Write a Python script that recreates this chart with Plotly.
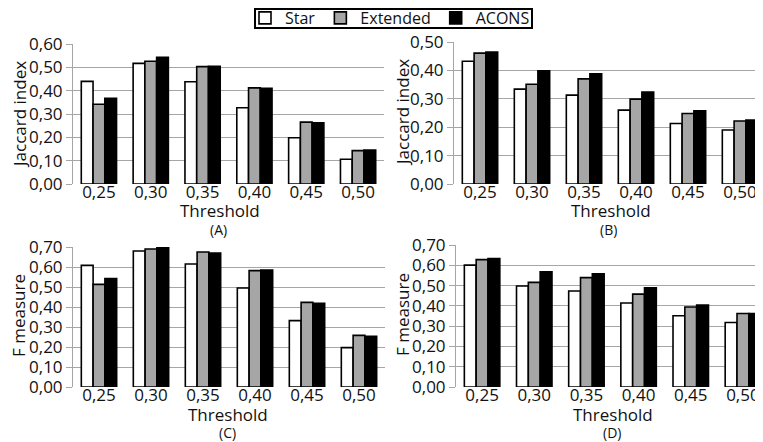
import plotly.graph_objects as go

thresholds = ["0,25", "0,30", "0,35", "0,40", "0,45", "0,50"]
series_names = ["Star", "Extended", "ACONS"]

# (A) Jaccard index
a_star = [0.440, 0.517, 0.438, 0.327, 0.198, 0.106]
a_ext = [0.342, 0.526, 0.503, 0.412, 0.265, 0.143]
a_acons = [0.367, 0.543, 0.504, 0.410, 0.262, 0.145]
# (B) Jaccard index
b_star = [0.432, 0.334, 0.313, 0.260, 0.213, 0.190]
b_ext = [0.461, 0.351, 0.370, 0.299, 0.248, 0.222]
b_acons = [0.465, 0.399, 0.388, 0.324, 0.258, 0.225]
# (C) F measure
c_star = [0.608, 0.680, 0.615, 0.495, 0.332, 0.197]
c_ext = [0.513, 0.690, 0.675, 0.582, 0.423, 0.258]
c_acons = [0.542, 0.703, 0.670, 0.585, 0.418, 0.253]
# (D) F measure
d_star = [0.601, 0.498, 0.473, 0.414, 0.351, 0.318]
d_ext = [0.628, 0.516, 0.539, 0.458, 0.394, 0.362]
d_acons = [0.633, 0.568, 0.558, 0.489, 0.404, 0.362]

colors = ["#ffffff", "#a6a6a6", "#000000"]
W, H = 763, 442
OFF = 8  # page body margin
FONT = "Open Sans"
TXT = "#111111"

panels = [
    ("x", "y", [a_star, a_ext, a_acons]),
    ("x2", "y2", [b_star, b_ext, b_acons]),
    ("x3", "y3", [c_star, c_ext, c_acons]),
    ("x4", "y4", [d_star, d_ext, d_acons]),
]

fig = go.Figure()
for pi, (xa, ya, data) in enumerate(panels):
    for si, vals in enumerate(data):
        fig.add_trace(go.Bar(
            x=thresholds, y=vals, name=series_names[si],
            marker=dict(color=colors[si], line=dict(color="#000000", width=1.6)),
            xaxis=xa, yaxis=ya, showlegend=(pi == 0),
        ))

def px_x(p):
    return (p - OFF) / W

def px_y(p):
    return 1 - (p - OFF) / H

def xax(domain):
    return dict(domain=domain, type="category", range=[-0.5, 5.5],
                showgrid=False, showline=False, ticks="", ticklen=0, zeroline=False,
                automargin=False, ticklabelstandoff=-4,
                tickfont=dict(family=FONT, size=17, color=TXT), fixedrange=True)

def yax(domain, top, anchor):
    return dict(domain=domain, range=[0, top], dtick=0.1, tickformat=".2f",
                showgrid=True, gridcolor="#a6a6a6", gridwidth=1,
                showline=True, linecolor="#a6a6a6", linewidth=1,
                ticks="outside", ticklen=6, tickcolor="#a6a6a6",
                zeroline=False, anchor=anchor, automargin=False,
                tickfont=dict(family=FONT, size=17, color=TXT), fixedrange=True)

ax_a = [px_x(73), px_x(384)]
ax_c = [px_x(73), px_x(385)]
ax_b = [px_x(454), px_x(766)]
ax_d = [px_x(456), px_x(769)]
ytop = [px_y(184), px_y(44)]
ytop_b = [px_y(184), px_y(42)]
ybot_c = [px_y(387), px_y(247)]
ybot_d = [px_y(387), px_y(245)]

fig.update_layout(
    width=W, height=H,
    margin=dict(l=0, r=0, t=0, b=0, pad=0, autoexpand=False),
    paper_bgcolor="white", plot_bgcolor="white",
    separators=", ",
    barmode="group", bargap=0.32, bargroupgap=0,
    font=dict(family=FONT, color=TXT),
    xaxis=dict(**xax(ax_a), anchor="y"),
    xaxis2=dict(**xax(ax_b), anchor="y2"),
    xaxis3=dict(**xax(ax_c), anchor="y3"),
    xaxis4=dict(**xax(ax_d), anchor="y4"),
    yaxis=yax(ytop, 0.6, "x"),
    yaxis2=yax(ytop_b, 0.5, "x2"),
    yaxis3=yax(ybot_c, 0.7, "x3"),
    yaxis4=yax(ybot_d, 0.7, "x4"),
    legend=dict(orientation="h", x=px_x(390), xanchor="center",
                y=px_y(18) + 17 / H, yanchor="top",
                borderwidth=0, bgcolor="rgba(0,0,0,0)",
                font=dict(family=FONT, size=16, color=TXT),
                itemwidth=30, tracegroupgap=0),
    shapes=[dict(type="rect", xref="paper", yref="paper",
                 x0=px_x(255), x1=px_x(532), y0=px_y(28), y1=px_y(9),
                 line=dict(color="#000000", width=2), fillcolor="rgba(0,0,0,0)",
                 layer="below")],
)

ann = []
def add_text(text, x, y, size, angle=0):
    ann.append(dict(text=text, x=px_x(x), y=px_y(y), xref="paper", yref="paper",
                    showarrow=False, textangle=angle, xanchor="center", yanchor="middle",
                    font=dict(family=FONT, size=size, color=TXT)))

add_text("Jaccard index", 19, 115, 17, -90)
add_text("Jaccard index", 402, 113, 17, -90)
add_text("F measure", 18, 316, 17, -90)
add_text("F measure", 402, 315, 17, -90)
add_text("Threshold", 220, 211, 17)
add_text("Threshold", 611, 211, 17)
add_text("Threshold", 228, 414, 17)
add_text("Threshold", 613, 414, 17)
add_text("(A)", 218, 229, 14)
add_text("(B)", 608, 229, 14)
add_text("(C)", 227, 432, 14)
add_text("(D)", 612, 432, 14)
fig.update_layout(annotations=ann)

fig.write_html("out.html")
